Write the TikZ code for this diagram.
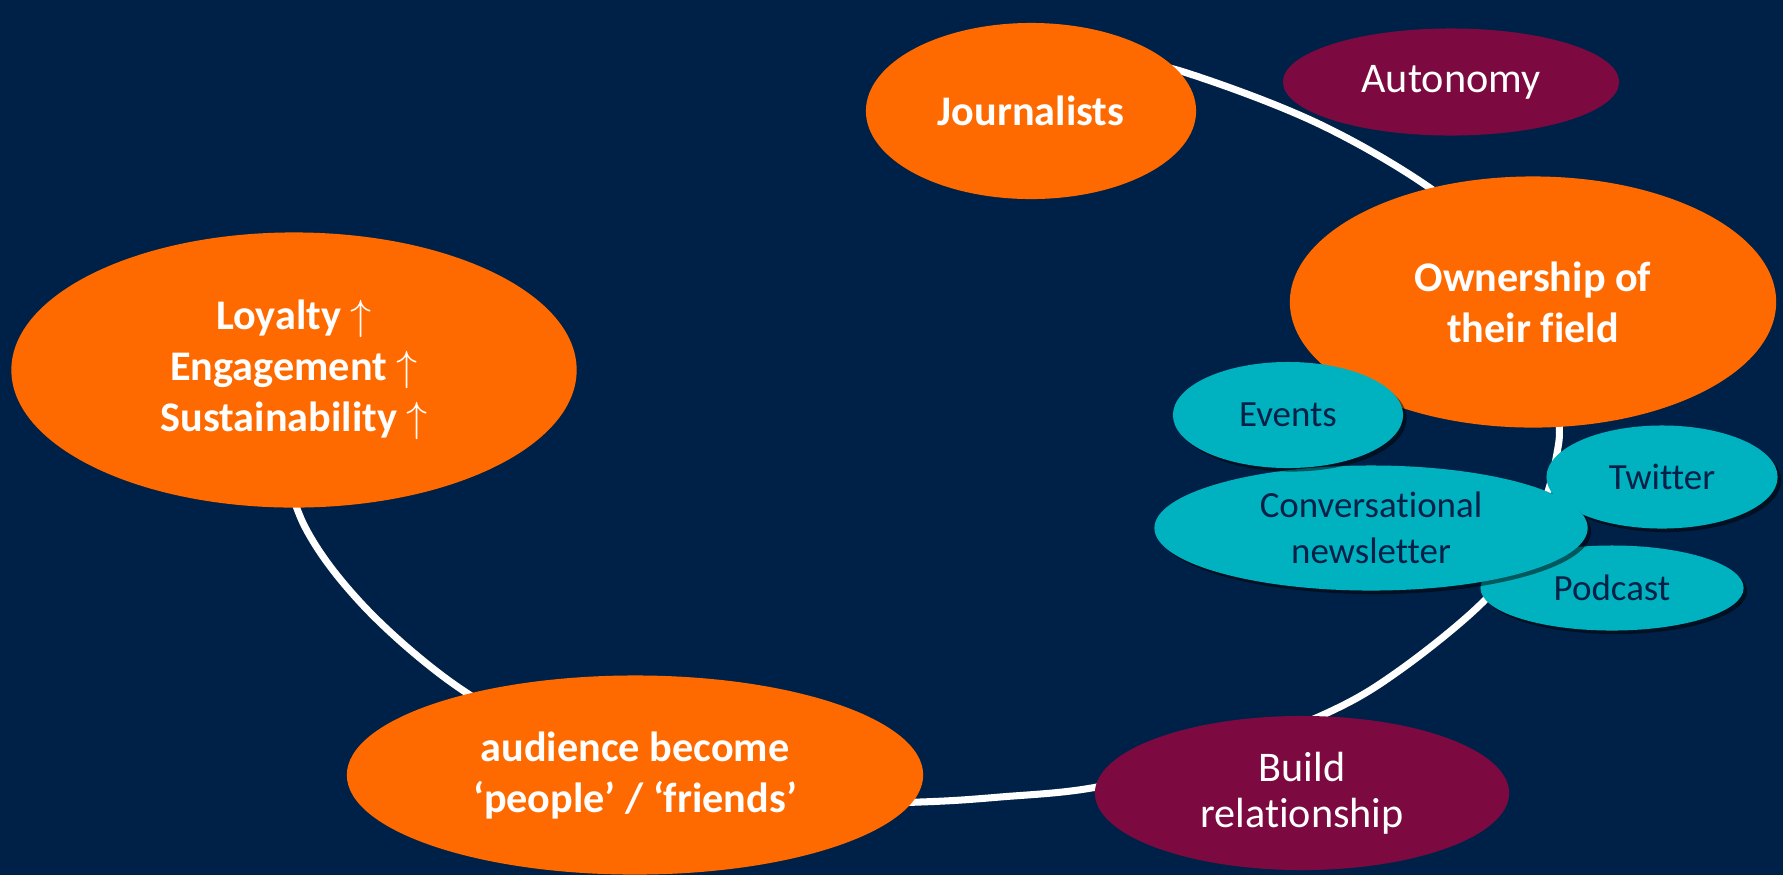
\documentclass[tikz,border=0pt]{standalone}
\usepackage{xcolor}
\usepackage{fontspec}
\setmainfont[Ligatures=NoCommon]{Carlito}
\usepackage{tikz}
\usetikzlibrary{shapes.geometric,shadows}

\definecolor{navybg}{RGB}{0,33,71}
\definecolor{orangefill}{RGB}{255,106,0}
\definecolor{plum}{RGB}{124,10,64}
\definecolor{tealfill}{RGB}{0,178,192}

\begin{document}
\begin{tikzpicture}[
        x = 0.01cm, y = -0.01cm,
        every node/.style = {ellipse, inner sep=0pt, align=center},
        hub/.style = {fill=orangefill, text=white, font=\fontsize{12}{14.5}\selectfont\bfseries},
        aim/.style = {fill=plum, text=white, font=\fontsize{12}{13}\selectfont},
        channel/.style = {fill=tealfill, text=navybg, font=\fontsize{10.5}{13}\selectfont,
          drop shadow={shadow xshift=1pt, shadow yshift=-1pt, opacity=0.5, fill=black}},
      ]

      \useasboundingbox (0,0) rectangle (1783,875);
      \fill[navybg] (0,0) rectangle (1783,875);

      % the ring, behind the nodes
      \draw[white, line width=2pt] plot[smooth, tension=0.6] coordinates {
        (1110,56) (1187,73) (1317,123) (1430,188) (1500,250) (1532,300)
        (1551,350) (1559,420) (1557,453) (1545,500) (1520,550) (1483,602)
        (1400,670) (1327,713) (1210,758) (1097,787) (1000,797) (920,802)
        (800,804) (700,786) (600,758) (520,724) (440,674)
        (360,602) (305,527) (278,445)};

      \node[hub, minimum width=3.3cm, minimum height=1.76cm] (journalists) at (1031,111) {Journalists};
      \node[aim, minimum width=3.36cm, minimum height=1.07cm] (autonomy) at (1451,82) {Autonomy};
      \node[hub, minimum width=5.65cm, minimum height=2.75cm] (loyalty) at (294,370)
        {Loyalty $\uparrow$\\ Engagement $\uparrow$\\ Sustainability $\uparrow$};
      \node[hub, minimum width=5.76cm, minimum height=1.99cm] (audience) at (635,775)
        {audience become\\ ‘people’ / ‘friends’};
      \node[aim, minimum width=4.14cm, minimum height=1.54cm] (relationship) at (1302,793)
        {Build\\ relationship};
      \node[hub, minimum width=4.86cm, minimum height=2.51cm] (ownership) at (1533,302)
        {Ownership of\\ their field};

      \node[channel, minimum width=2.31cm, minimum height=1.03cm] (twitter) at (1662,477) {Twitter};
      \node[channel, minimum width=2.63cm, minimum height=0.85cm] (podcast) at (1612,588) {Podcast};
      \node[channel, minimum width=4.33cm, minimum height=1.25cm] (newsletter) at (1371,528)
        {Conversational\\ newsletter};
      \node[channel, minimum width=2.30cm, minimum height=1.06cm] (events) at (1288,415) {Events};

    \end{tikzpicture}
\end{document}
